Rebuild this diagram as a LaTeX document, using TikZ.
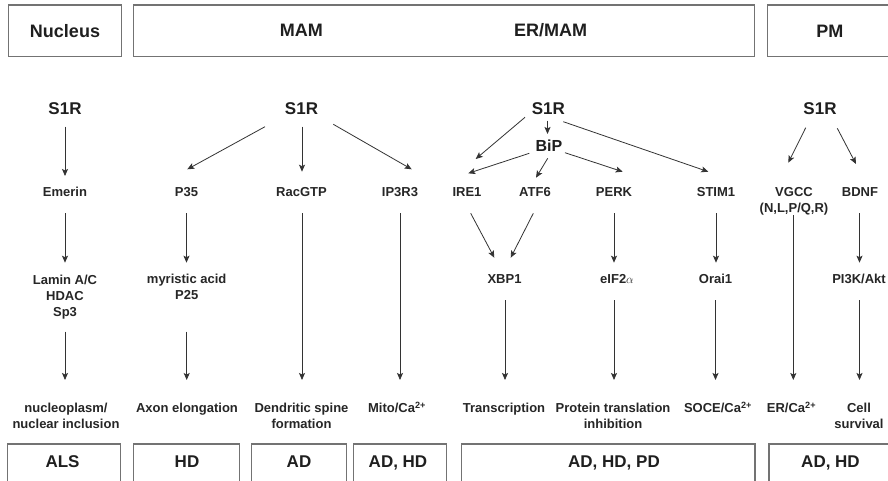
\documentclass[tikz,border=0pt]{standalone}
\usepackage{fontspec}
\setmainfont{Liberation Sans}
\usetikzlibrary{arrows.meta,calc}
\begin{document}
\begin{tikzpicture}[x=1pt,y=-1pt,
  frame/.style={draw=black!55, line width=1.2pt, inner sep=0pt, fill=white},
  hdr/.style={font=\fontsize{18}{20}\selectfont\bfseries, text=black!88, inner sep=0pt, text height=12.9pt, text depth=0pt},
  dis/.style={font=\fontsize{17}{20}\selectfont\bfseries, text=black!88, inner sep=0pt, text height=12.2pt, text depth=0pt},
  srr/.style={font=\fontsize{17}{20}\selectfont\bfseries, text=black!88, inner sep=0pt, text height=12.2pt, text depth=0pt},
  bipst/.style={font=\fontsize{16}{19}\selectfont\bfseries, text=black!88, inner sep=0pt, text height=11.5pt, text depth=0pt},
  lab/.style={font=\fontsize{13}{16}\selectfont\bfseries, text=black!85, inner sep=0pt, text height=9.3pt, text depth=0pt},
  mlab/.style={font=\fontsize{13}{16}\selectfont\bfseries, text=black!85, inner sep=0pt, align=center},
  arr/.style={draw=black!80, line width=0.8pt, -{Stealth[length=7pt,width=6pt,inset=1.5pt]}}
]
\fill[white] (0,0) rectangle (888,480);
\clip (0,0) rectangle (888,480);

% header boxes
\node[frame, hdr, minimum width=113.4pt, minimum height=51.7pt] (hnuc) at (65,30.85) {Nucleus};
\node[frame, minimum width=621.4pt, minimum height=51.7pt] (hmambox) at (444,30.85) {};
\node[hdr] (hmam) at (301.4,30.3) {MAM};
\node[hdr] (herm) at (550.5,30.3) {ER/MAM};
\node[frame, hdr, minimum width=125pt, minimum height=51.7pt] (hpm) at (829.8,30.85) {PM};

% bottom boxes
\node[frame, minimum width=113.4pt, minimum height=53pt] (bals) at (64,470.5) {};
\node[frame, minimum width=106pt, minimum height=53pt] (bhd) at (186.3,470.5) {};
\node[frame, minimum width=95pt, minimum height=53pt] (bad) at (299.2,470.5) {};
\node[frame, minimum width=93.4pt, minimum height=53pt] (badhd) at (400,470.5) {};
\node[frame, minimum width=293.3pt, minimum height=53pt] (badhdpd) at (608.4,470.5) {};
\node[frame, minimum width=124pt, minimum height=53pt] (badhdb) at (831,470.5) {};
\node[dis] (tals) at (62.5,461.5) {ALS};
\node[dis] (thd) at (187,461.5) {HD};
\node[dis] (tad) at (299,461.5) {AD};
\node[dis] (tadhd) at (398,461.5) {AD, HD};
\node[dis] (tadhdpd) at (614,461.5) {AD, HD, PD};
\node[dis] (tadhdb) at (830.5,461.5) {AD, HD};

% Nucleus column
\node[srr] (n1S) at (65,108.5) {S1R};
\node[lab] (emerin) at (65,192.3) {Emerin};
\node[mlab] (lamin) at (65,296.7) {Lamin A/C\\HDAC\\Sp3};
\node[mlab] (nucleo) at (66,416.2) {nucleoplasm/\\nuclear inclusion};

% MAM columns
\node[srr] (mS) at (301.5,108.5) {S1R};
\node[lab] (p35) at (186.5,192.3) {P35};
\node[mlab] (myr) at (186.7,287) {myristic acid\\P25};
\node[lab] (axon) at (187,408.3) {Axon elongation};
\node[lab] (racgtp) at (301.5,192.3) {RacGTP};
\node[mlab] (dend) at (301.5,416.2) {Dendritic spine\\formation};
\node[lab] (ip3r3) at (400,192.3) {IP3R3};
\node[lab] (mito) at (397,408.3) {Mito/Ca\textsuperscript{2+}};

% ER/MAM columns
\node[srr] (eS) at (548.3,108.5) {S1R};
\node[bipst] (bip) at (549,145.5) {BiP};
\node[lab] (ire1) at (467,192.3) {IRE1};
\node[lab] (atf6) at (535,192.3) {ATF6};
\node[lab] (perk) at (614,192.3) {PERK};
\node[lab] (stim1) at (716,192.3) {STIM1};
\node[lab] (xbp1) at (504.5,279) {XBP1};
\node[lab] (eif) at (617,279) {eIF2$\alpha$};
\node[lab] (orai) at (715.5,279) {Orai1};
\node[lab] (transc) at (504,408.3) {Transcription};
\node[mlab] (prot) at (613,416.2) {Protein translation\\inhibition};
\node[lab] (soce) at (718,408.3) {SOCE/Ca\textsuperscript{2+}};

% PM columns
\node[srr] (pS) at (820,108.5) {S1R};
\node[mlab] (vgcc) at (794,201.6) {VGCC\\(N,L,P/Q,R)};
\node[lab] (bdnf) at (860,192.3) {BDNF};
\node[lab] (pi3k) at (859,279) {PI3K/Akt};
\node[lab] (erca) at (791.5,408.3) {ER/Ca\textsuperscript{2+}};
\node[mlab] (cell) at (859,416.2) {Cell\\survival};

% arrows
\draw[arr] ($(n1S)+(0,18.2)$) -- ($(emerin)+(0,-16.3)$);
\draw[arr] ($(emerin)+(0,21)$) -- ($(lamin)+(0,-34)$);
\draw[arr] ($(lamin)+(0,35)$) -- ($(nucleo)+(-1,-36.2)$);

\draw[arr] ($(mS)+(-36.5,18.2)$) -- ($(p35)+(0.8,-23)$);
\draw[arr] ($(mS)+(0.5,18.2)$) -- ($(racgtp)+(0.5,-20.6)$);
\draw[arr] ($(mS)+(31.8,15.8)$) -- ($(ip3r3)+(11.7,-23)$);
\draw[arr] ($(p35)+(0,21)$) -- ($(myr)+(-0.2,-24.3)$);
\draw[arr] ($(myr)+(0,44.7)$) -- ($(axon)+(-0.3,-28.3)$);
\draw[arr] ($(racgtp)+(0.5,21)$) -- ($(dend)+(0.5,-36.2)$);
\draw[arr] ($(ip3r3)+(0,21)$) -- ($(mito)+(3,-28.3)$);

\draw[arr] ($(eS)+(-0.8,12.2)$) -- ($(bip)+(-1.5,-11.5)$);
\draw[arr] ($(eS)+(-23.3,8.8)$) -- ($(ire1)+(8.7,-33.3)$);
\draw[arr] ($(bip)+(-19.7,7.8)$) -- ($(ire1)+(1.3,-19)$);
\draw[arr] ($(bip)+(-1.3,12.8)$) -- ($(atf6)+(1,-14.6)$);
\draw[arr] ($(bip)+(16,7.2)$) -- ($(perk)+(8.7,-20.6)$);
\draw[arr] ($(eS)+(15,13.2)$) -- ($(stim1)+(-7.7,-20.6)$);
\draw[arr] ($(ire1)+(3.7,21)$) -- ($(xbp1)+(-10.2,-21.3)$);
\draw[arr] ($(atf6)+(-1.7,21)$) -- ($(xbp1)+(6.2,-21.3)$);
\draw[arr] ($(perk)+(0,21)$) -- ($(eif)+(-3,-16.3)$);
\draw[arr] ($(stim1)+(0,21)$) -- ($(orai)+(0.5,-16.3)$);
\draw[arr] ($(xbp1)+(0.5,21)$) -- ($(transc)+(1,-28.3)$);
\draw[arr] ($(eif)+(-3,21)$) -- ($(prot)+(1,-36.2)$);
\draw[arr] ($(orai)+(0,21)$) -- ($(soce)+(-2.5,-28.3)$);

\draw[arr] ($(pS)+(-14.3,19.2)$) -- ($(vgcc)+(-5.7,-38.9)$);
\draw[arr] ($(pS)+(17.3,19.8)$) -- ($(bdnf)+(-4,-28.3)$);
\draw[arr] ($(vgcc)+(-0.7,13.4)$) -- ($(erca)+(1.8,-28.3)$);
\draw[arr] ($(bdnf)+(-0.5,21)$) -- ($(pi3k)+(0.5,-16.3)$);
\draw[arr] ($(pi3k)+(0.5,21)$) -- ($(cell)+(0.5,-36.2)$);
\end{tikzpicture}
\end{document}
